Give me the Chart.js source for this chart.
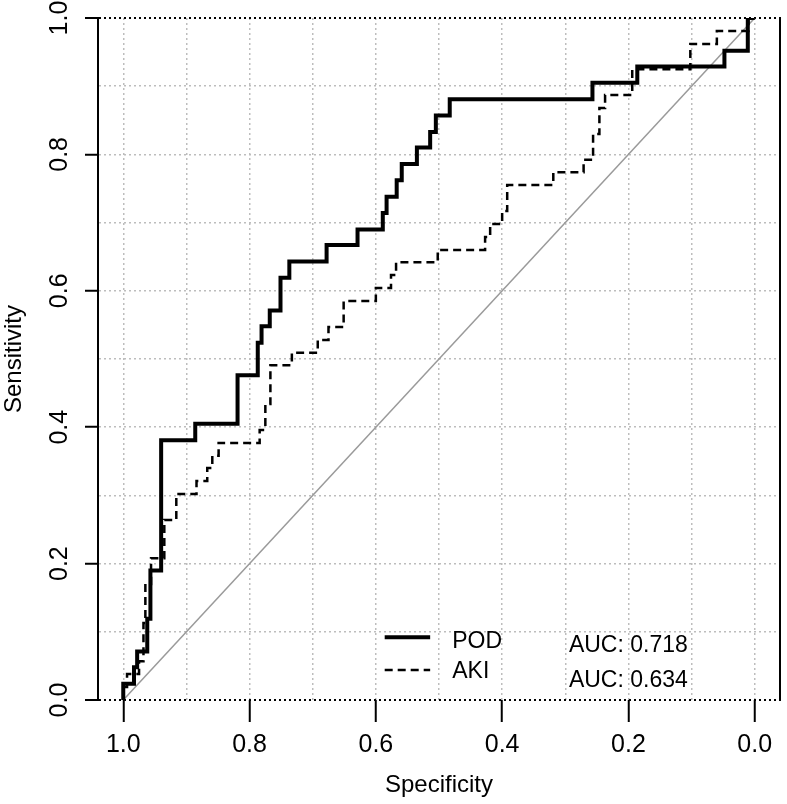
<!DOCTYPE html>
<html>
<head>
<meta charset="utf-8">
<script src="https://cdn.jsdelivr.net/npm/chart.js@4.4.1/dist/chart.umd.min.js"></script>
<style>
  body { margin: 0; background: #fff; }
</style>
</head>
<body>
<canvas id="roc" width="787" height="804"></canvas>
<script>
// values
const podSpec = [1.0, 1.0, 0.983, 0.978, 0.962, 0.957, 0.940, 0.886, 0.819, 0.787,
  0.781, 0.768, 0.751, 0.737, 0.678, 0.629, 0.589, 0.583, 0.567, 0.559,
  0.535, 0.514, 0.505, 0.483, 0.257, 0.186, 0.048, 0.011, 0.0]
const podSens = [0, 0.024, 0.048, 0.071, 0.119, 0.190, 0.381, 0.405, 0.476, 0.524,
  0.548, 0.571, 0.619, 0.643, 0.667, 0.690, 0.714, 0.738, 0.762, 0.786,
  0.810, 0.833, 0.857, 0.881, 0.905, 0.929, 0.952, 1.0, 1.0]

const akiSpec = [1.0, 1.0, 0.994, 0.975, 0.968, 0.965, 0.956, 0.935, 0.916, 0.884,
  0.867, 0.859, 0.849, 0.784, 0.775, 0.767, 0.733, 0.692, 0.675, 0.651,
  0.600, 0.576, 0.568, 0.502, 0.427, 0.419, 0.400, 0.392, 0.319, 0.271,
  0.256, 0.246, 0.237, 0.194, 0.102, 0.060, 0.010, 0.0]
const akiSens = [0, 0.019, 0.038, 0.057, 0.113, 0.170, 0.208, 0.264, 0.302, 0.321,
  0.340, 0.358, 0.377, 0.396, 0.434, 0.491, 0.509, 0.528, 0.547, 0.585,
  0.604, 0.623, 0.642, 0.660, 0.679, 0.698, 0.717, 0.755, 0.774, 0.792,
  0.830, 0.868, 0.887, 0.925, 0.962, 0.981, 1.0, 1.0]

const diagSpec = [1, 0]
const diagSens = [0, 1]

const tickVals = [0, 0.1, 0.2, 0.3, 0.4, 0.5, 0.6, 0.7, 0.8, 0.9, 1.0]
const seriesNames = ['POD', 'AKI']
const aucText = ['AUC: 0.718', 'AUC: 0.634']

const pts = (xs, ys) => xs.map((x, i) => ({ x: x, y: ys[i] }))
const major = v => Math.round(v * 10) % 2 === 0
const edge = v => v === 0 || v === 1
const fontFam = '"Liberation Sans", Arial, sans-serif'

// legend in the lower right, like the R plot
const rocLegend = {
  id: 'rocLegend',
  afterDatasetsDraw(chart) {
    const { ctx, scales: { x, y } } = chart
    const x1 = x.getPixelForValue(0.586), x2 = x.getPixelForValue(0.514)
    const tx = x.getPixelForValue(0.479), ax = x.getPixelForValue(0.106)
    const rows = [y.getPixelForValue(0.092), y.getPixelForValue(0.044)]
    ctx.save()
    ctx.strokeStyle = '#000'
    ctx.lineWidth = 4
    ctx.beginPath(); ctx.moveTo(x1, rows[0]); ctx.lineTo(x2, rows[0]); ctx.stroke()
    ctx.lineWidth = 2.5
    ctx.setLineDash([8, 5])
    ctx.beginPath(); ctx.moveTo(x1, rows[1]); ctx.lineTo(x2, rows[1]); ctx.stroke()
    ctx.setLineDash([])
    ctx.fillStyle = '#000'
    ctx.font = '23px ' + fontFam
    ctx.textBaseline = 'middle'
    ctx.textAlign = 'left'
    ctx.fillText(seriesNames[0], tx, rows[0] + 4)
    ctx.fillText(seriesNames[1], tx, rows[1] + 2)
    ctx.textAlign = 'right'
    ctx.fillText(aucText[0], ax, rows[0] + 8)
    ctx.fillText(aucText[1], ax, y.getPixelForValue(0.029))
    ctx.restore()
  }
}

new Chart(document.getElementById('roc'), {
  type: 'scatter',
  data: {
    datasets: [
      {
        label: seriesNames[0],
        data: pts(podSpec, podSens),
        showLine: true,
        stepped: 'before',
        borderColor: '#000',
        borderWidth: 4,
        pointRadius: 0,
        fill: false
      },
      {
        label: seriesNames[1],
        data: pts(akiSpec, akiSens),
        showLine: true,
        stepped: 'before',
        borderColor: '#000',
        borderWidth: 2.5,
        borderDash: [8, 5],
        pointRadius: 0,
        fill: false
      },
      {
        label: 'ref',
        data: pts(diagSpec, diagSens),
        showLine: true,
        borderColor: '#9a9a9a',
        borderWidth: 1.5,
        pointRadius: 0,
        fill: false
      }
    ]
  },
  options: {
    responsive: false,
    animation: false,
    layout: { padding: { top: 18, right: 0, left: 0, bottom: 0 } },
    plugins: {
      legend: { display: false },
      tooltip: { enabled: false }
    },
    scales: {
      x: {
        type: 'linear',
        reverse: true,
        min: -0.04,
        max: 1.04,
        afterBuildTicks: s => { s.ticks = tickVals.map(v => ({ value: v })) },
        afterFit: s => { s.height = 104 },
        border: { display: false, dash: [2, 3] },
        grid: {
          color: '#bdbdbd',
          lineWidth: 1.5,
          tickBorderDash: [],
          tickLength: 22,
          tickWidth: 2,
          tickColor: c => major(c.tick.value) ? '#000' : 'rgba(0,0,0,0)'
        },
        ticks: {
          color: '#000',
          font: { size: 25, family: fontFam },
          padding: 8,
          maxRotation: 0,
          autoSkip: false,
          callback: v => major(v) ? v.toFixed(1) : ''
        },
        title: {
          display: true,
          text: 'Specificity',
          color: '#000',
          font: { size: 24, family: fontFam },
          padding: { top: 0, bottom: 4 }
        }
      },
      y: {
        type: 'linear',
        min: 0,
        max: 1,
        afterBuildTicks: s => { s.ticks = tickVals.map(v => ({ value: v })) },
        afterFit: s => { s.width = 98; s.paddingTop = 0; s.paddingBottom = 0 },
        border: { display: true, color: '#000', width: 2, dash: [2, 3] },
        grid: {
          color: c => edge(c.tick.value) ? '#000' : '#bdbdbd',
          lineWidth: c => edge(c.tick.value) ? 2 : 1.5,
          tickBorderDash: [],
          tickLength: 13,
          tickWidth: 2,
          tickColor: c => major(c.tick.value) ? '#000' : 'rgba(0,0,0,0)'
        },
        ticks: {
          color: '#000',
          font: { size: 25, family: fontFam },
          padding: 8,
          minRotation: 90,
          maxRotation: 90,
          crossAlign: 'center',
          autoSkip: false,
          callback: v => major(v) ? v.toFixed(1) : ''
        },
        title: {
          display: true,
          text: 'Sensitivity',
          color: '#000',
          font: { size: 24, family: fontFam },
          padding: { top: 0, bottom: 0 }
        }
      },
      y2: {
        type: 'linear',
        position: 'right',
        min: 0,
        max: 1,
        afterFit: s => { s.width = 7 },
        border: { display: true, color: '#000', width: 2 },
        grid: { drawOnChartArea: false, drawTicks: false },
        ticks: { display: false }
      }
    }
  },
  plugins: [rocLegend]
})
</script>
</body>
</html>
